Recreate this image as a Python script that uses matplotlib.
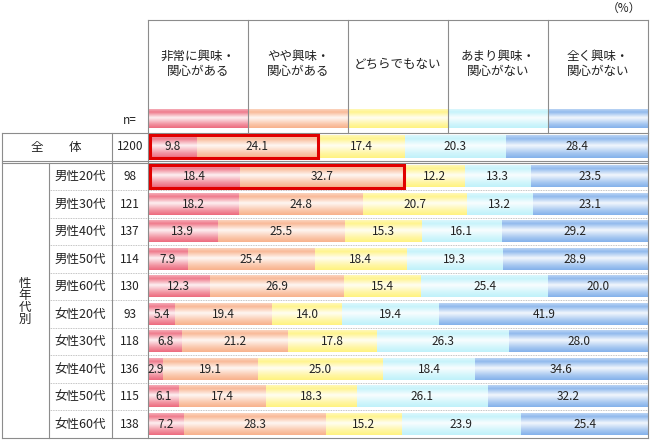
import matplotlib
matplotlib.use("Agg")
import matplotlib.pyplot as plt
import numpy as np
from matplotlib.colors import to_rgb
from matplotlib.patches import Rectangle

plt.rcParams['font.family'] = ['Noto Sans CJK JP', 'DejaVu Sans']

headers = ["非常に興味・\n関心がある", "やや興味・\n関心がある", "どちらでもない",
           "あまり興味・\n関心がない", "全く興味・\n関心がない"]
rows = ["全体", "男性20代", "男性30代", "男性40代", "男性50代", "男性60代",
        "女性20代", "女性30代", "女性40代", "女性50代", "女性60代"]
n_values = [1200, 98, 121, 137, 114, 130, 93, 118, 136, 115, 138]
very = [9.8, 18.4, 18.2, 13.9, 7.9, 12.3, 5.4, 6.8, 2.9, 6.1, 7.2]
somewhat = [24.1, 32.7, 24.8, 25.5, 25.4, 26.9, 19.4, 21.2, 19.1, 17.4, 28.3]
neither = [17.4, 12.2, 20.7, 15.3, 18.4, 15.4, 14.0, 17.8, 25.0, 18.3, 15.2]
not_much = [20.3, 13.3, 13.2, 16.1, 19.3, 25.4, 19.4, 26.3, 18.4, 26.1, 23.9]
not_at_all = [28.4, 23.5, 23.1, 29.2, 28.9, 20.0, 41.9, 28.0, 34.6, 32.2, 25.4]
boxed_rows = [0, 1]  # first two answers outlined in red

colors = ["#ec6478", "#f8ae86", "#fff27a", "#bdf1fa", "#7eaeea"]
line_c = "#8c8c8c"
txt_c = "#222222"

# layout in pixels
X0, SCALE = 148, 5.0          # bar origin and px per percent
row_top = [133] + [163 + 27.5 * i for i in range(10)]
row_h = [28] + [27.5] * 10


def px(p):
    return X0 + SCALE * p


def gradient(color):
    c = np.array(to_rgb(color))
    t = np.linspace(0, 1, 40)
    w = np.interp(t, [0, 0.15, 0.45, 0.8, 1], [0.55, 0.85, 0.1, 0.7, 0.95])
    img = 1 - w[:, None] * (1 - c[None, :])
    return img[:, None, :]


def grad_bar(ax, x0, x1, y0, y1, color):
    ax.imshow(gradient(color), extent=(x0, x1, y1, y0), origin="upper",
              aspect="auto", interpolation="bilinear", zorder=1)


fig = plt.figure(figsize=(6.5, 4.4), dpi=100)
ax = fig.add_axes([0, 0, 1, 1])
fs = 9
fs_num = 8.5

# header
edges = [148, 248, 348, 448, 548, 648]
for i, h in enumerate(headers):
    grad_bar(ax, edges[i], edges[i + 1], 109, 128, colors[i])
    ax.text((edges[i] + edges[i + 1]) / 2, 64, h, ha="center", va="center",
            fontsize=fs, linespacing=1.15, color=txt_c)
for x in edges:
    ax.plot([x, x], [20, 133], color=line_c, lw=0.8, zorder=3)
ax.plot([148, 648], [20, 20], color=line_c, lw=0.8, zorder=3)
ax.text(624, 8, "（%）", ha="center", va="center", fontsize=fs_num, color=txt_c)
ax.text(130, 121, "n=", ha="center", va="center", fontsize=fs_num, color=txt_c)

# bars
series = [very, somewhat, neither, not_much, not_at_all]
for r in range(len(rows)):
    y0 = row_top[r] + 2.5
    y1 = row_top[r] + row_h[r] - 3
    yc = row_top[r] + row_h[r] / 2
    left = 0.0
    for k, s in enumerate(series):
        v = s[r]
        grad_bar(ax, px(left), px(left + v), y0, y1, colors[k])
        ax.text(px(left + v / 2), yc, f"{v:.1f}", ha="center", va="center",
                fontsize=fs_num, color=txt_c, zorder=4)
        left += v
    ax.text(130, yc, str(n_values[r]), ha="center", va="center",
            fontsize=fs_num, color=txt_c)
    if r > 0:
        ax.text(80, yc, rows[r], ha="center", va="center", fontsize=fs,
                color=txt_c)
    if r in boxed_rows:
        w = SCALE * (very[r] + somewhat[r])
        ax.add_patch(Rectangle((X0 + 1.5, y0 - 0.5), w - 1.5, y1 - y0 + 1,
                               fill=False, ec="#e00000", lw=2.2, zorder=5))

# total row label
ax.text(37, row_top[0] + 14, rows[0][0], ha="center", va="center",
        fontsize=fs, color=txt_c)
ax.text(75, row_top[0] + 14, rows[0][1], ha="center", va="center",
        fontsize=fs, color=txt_c)
for i, ch in enumerate("性年代別"):
    ax.text(25, 283 + 12 * i, ch, ha="center", va="center", fontsize=fs,
            color=txt_c)

# grid lines
for y in [133, 438]:
    ax.plot([2, 648], [y, y], color=line_c, lw=0.8, zorder=3)
ax.plot([2, 648], [161, 161], color=line_c, lw=0.8, zorder=3)
ax.plot([2, 648], [163, 163], color=line_c, lw=0.8, zorder=3)
for y in row_top[2:]:
    ax.plot([49, 648], [y, y], color="#b0b0b0", lw=0.6, ls=(0, (1, 1)),
            zorder=3)
for x, ya in [(2, 133), (49, 163), (112, 133), (148, 133), (648, 133)]:
    ax.plot([x, x], [ya, 438], color=line_c, lw=0.8, zorder=3)

ax.set_xlim(0, 650)
ax.set_ylim(440, 0)
ax.axis("off")
fig.savefig("out.png", dpi=100)
